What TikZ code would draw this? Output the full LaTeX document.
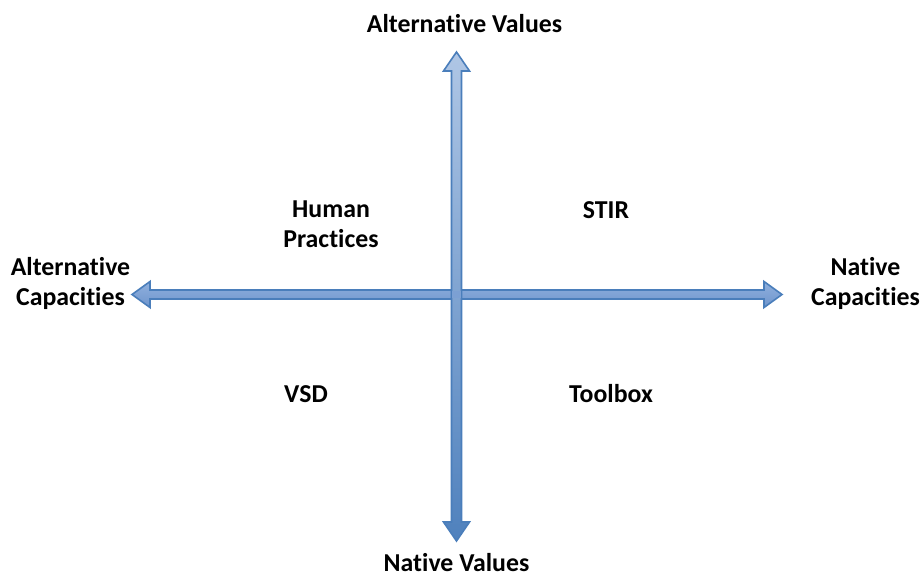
\documentclass[tikz,border=0pt]{standalone}
\usepackage{fontspec}
\setmainfont[Ligatures=CommonOff]{Carlito}
\begin{document}
\begin{tikzpicture}[x=1pt,y=-1pt,
  lbl/.style={font=\fontsize{25.8}{30}\selectfont\bfseries, align=center, inner sep=0pt, text=black},
  arrowbody/.style={draw=arrowborder, line width=1.6pt, line join=miter},
  shadowbody/.style={fill=black!20, draw=none}]
\definecolor{arrowborder}{HTML}{4A7EBB}
\definecolor{lighttop}{HTML}{AFC6E5}
\definecolor{darkbot}{HTML}{4F81BD}
\definecolor{midtop}{HTML}{8FB0DD}
\definecolor{midbot}{HTML}{6F96CD}
\useasboundingbox (0,0) rectangle (923,577);
% coordinates of arrow tips and center
\coordinate (c) at (456.5,294.5);
\coordinate (vtop) at (456.5,52);
\coordinate (vbot) at (456.5,541);
\coordinate (hleft) at (132,294.5);
\coordinate (hright) at (782,294.5);
% shadows
\begin{scope}[shift={(2.5,3.5)}]
\fill[shadowbody] (hleft) -- ++(18,-13) -- ++(0,8.5) -- ++(614,0) -- ++(0,-8.5) -- (hright) -- ++(-18,13) -- ++(0,-8.5) -- ++(-614,0) -- ++(0,8.5) -- cycle;
\fill[shadowbody] (vtop) -- ++(13,19) -- ++(-8,0) -- ++(0,451) -- ++(8,0) -- (vbot) -- ++(-13,-19) -- ++(8,0) -- ++(0,-451) -- ++(-8,0) -- cycle;
\end{scope}
% horizontal arrow
\path[arrowbody, top color=midtop, bottom color=midbot]
  (hleft) -- ++(18,-13) -- ++(0,8.5) -- ++(614,0) -- ++(0,-8.5) -- (hright) -- ++(-18,13) -- ++(0,-8.5) -- ++(-614,0) -- ++(0,8.5) -- cycle;
% vertical arrow
\path[arrowbody, top color=lighttop, bottom color=darkbot]
  (vtop) -- ++(13,19) -- ++(-8,0) -- ++(0,451) -- ++(8,0) -- (vbot) -- ++(-13,-19) -- ++(8,0) -- ++(0,-451) -- ++(-8,0) -- cycle;
% crossing patch
\fill[color=midbot!60!midtop] ([shift={(-4.2,-3.7)}]c) rectangle ([shift={(4.2,3.7)}]c);
% labels
\node[lbl] (av) at (464.5,24) {Alternative Values};
\node[lbl] (nv) at (456.5,563) {Native Values};
\node[lbl] (ac) at (70.5,283) {Alternative\\Capacities};
\node[lbl] (nc) at (865.5,283) {Native\\Capacities};
\node[lbl] (hp) at (331,224) {Human\\Practices};
\node[lbl] (stir) at (606,210) {STIR};
\node[lbl] (vsd) at (306,394) {VSD};
\node[lbl] (tb) at (611,394) {Toolbox};
\end{tikzpicture}
\end{document}
